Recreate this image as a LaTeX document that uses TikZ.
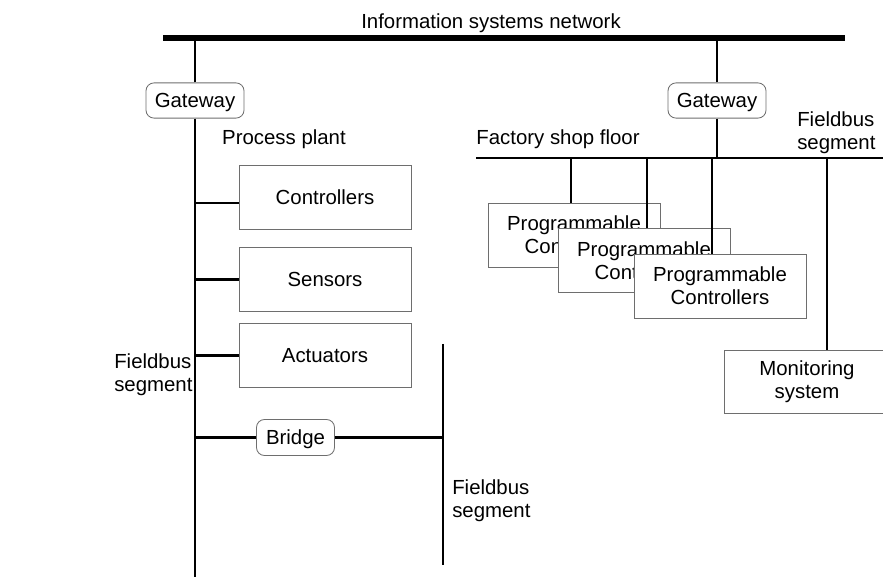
\documentclass[tikz,border=0pt]{standalone}
\usepackage{fontspec}
\setmainfont{Liberation Sans}
\usetikzlibrary{positioning,calc}
\definecolor{edgegrey}{HTML}{6E6E6E}
\tikzset{device/.style={rectangle,draw=edgegrey,fill=white,line width=.6pt,minimum width=4.3cm,minimum height=1.6cm,inner sep=0pt,align=center,font=\fontsize{14.5}{16.5}\selectfont},link/.style={rectangle,rounded corners=2mm,draw=edgegrey,fill=white,line width=.6pt,minimum height=.88cm,inner sep=0pt,text depth=0pt,font=\fontsize{14.5}{16.5}\selectfont},caption/.style={inner sep=0pt,align=left,font=\fontsize{14.5}{16.5}\selectfont},backbone/.style={line width=3.9pt},bus/.style={line width=2.1pt}}
\begin{document}
\begin{tikzpicture}[x=.025cm,y=-.025cm]
\useasboundingbox (0,0) rectangle (883,577);
\clip (0,0) rectangle (883,577);
\coordinate (netW) at (163,38);\coordinate (netE) at (845,38);
\coordinate (plantEnd) at (195,577);
\coordinate (shopW) at (476,158);\coordinate (shopE) at (890,158);
\coordinate (fbTop) at (443,344);\coordinate (fbEnd) at (443,565);
\draw[backbone] (netW)--(netE);
\draw[bus] (shopW)--(shopE);
\draw[bus] (fbTop)--(fbEnd);
\node[caption] (netlbl) at (491,23) {Information systems network};
\node[link,minimum width=2.45cm] (gwL) at (195,100.5) {Gateway};
\node[link,minimum width=2.45cm] (gwR) at (717,100.5) {Gateway};
\draw[bus] (gwL.north)--(gwL.north |- netW);\draw[bus] (gwL.south)--(plantEnd);
\draw[bus] (gwR.north)--(gwR.north |- netE);\draw[bus] (gwR.south)--(gwR.south |- shopW);
\node[caption] (plant) at (284,139) {Process plant};
\node[caption] (shop) at (558,139) {Factory shop floor};
\node[caption,anchor=west] (segA) at (797,133) {Fieldbus\\segment};
\node[caption,anchor=west] (segB) at (114,375) {Fieldbus\\segment};
\node[caption,anchor=west] (segC) at (452,501) {Fieldbus\\segment};
\foreach \n/\t/\y/\d in {ctrl/Controllers/197/6,sens/Sensors/279.5/0,act/Actuators/355.5/0}{
\node[device] (\n) at (325,\y) {\t};
\coordinate (\n tap) at ($(\n.west)+(0,\d)$);
\draw[bus] (\n tap)--(\n tap -| plantEnd);
}
\node[link,minimum width=1.95cm,minimum height=.9cm] (bridge) at (295.5,437.5) {Bridge};
\draw[bus] (bridge.west)--(bridge.west -| plantEnd);
\draw[bus] (bridge.east)--(bridge.east -| fbTop);
\foreach \n/\x/\y/\t in {pcA/574/235/571,pcB/644/260.5/647,pcC/720/286/712}{
\coordinate (\n tap) at (\t,158);
\draw[bus] (\n tap)--(\n tap |- 0,\y);
\node[device] (\n) at (\x,\y) {Programmable\\Controllers};
}
\node[device,minimum width=4.15cm,minimum height=1.575cm] (mon) at (807,381.5) {Monitoring\\system};
\coordinate (montap) at (827,158);
\draw[bus] (montap)--(montap |- mon.north);
\end{tikzpicture}
\end{document}
